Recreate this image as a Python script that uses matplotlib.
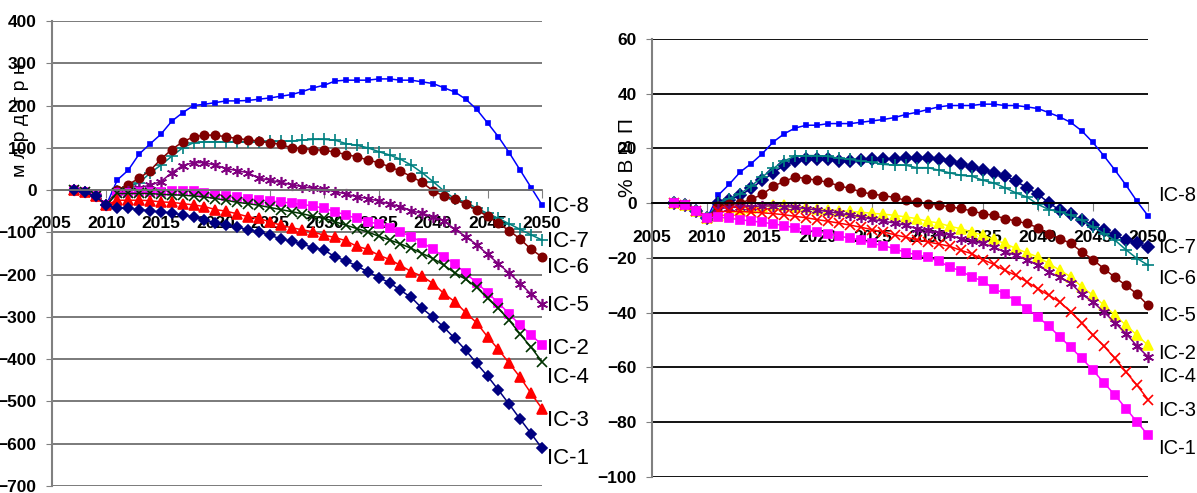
import numpy as np
import matplotlib
matplotlib.use('Agg')
import matplotlib.pyplot as plt

plt.rcParams['font.family'] = ['Liberation Sans Narrow', 'Liberation Sans', 'DejaVu Sans']

years = list(range(2007, 2051))

# left panel, bn UAH (first 4 points shared 2007-2010)
start_l = [0, -5, -15, -35]
l_ic8 = [24, 47, 85, 109, 132, 163, 183, 200, 203, 207,
         211, 211, 212, 215, 218, 222, 226, 233, 242, 248,
         258, 260, 260, 260, 263, 263, 260, 260, 256, 252,
         242, 232, 215, 191, 159, 126, 88, 47, 6, -35]
l_ic7 = [-2, 8, 17, 40, 59, 80, 100, 112, 114, 114,
         114, 114, 114, 114, 115, 115, 116, 118, 120, 120,
         118, 110, 106, 100, 91, 83, 73, 59, 41, 20,
         -2, -21, -28, -43, -55, -67, -80, -93, -106, -118]
l_ic6 = [0, 13, 28, 46, 73, 96, 114, 126, 130, 130,
         126, 122, 119, 116, 112, 108, 100, 98, 96, 94,
         90, 84, 79, 71, 65, 55, 45, 32, 18, -2,
         -14, -22, -33, -47, -62, -79, -96, -116, -140, -158]
l_ic5 = [-5, -3, 5, 12, 20, 41, 58, 65, 65, 59,
         51, 46, 41, 28, 24, 18, 13, 8, 4, 2,
         -4, -9, -16, -20, -26, -33, -39, -49, -55, -63,
         -73, -93, -110, -129, -152, -174, -197, -221, -246, -270]
l_ic2 = [-6, -6, -5, -5, -4, -2, -2, -3, -6, -10,
         -14, -17, -21, -23, -26, -28, -31, -34, -38, -43,
         -51, -59, -67, -75, -80, -89, -99, -110, -124, -140,
         -158, -175, -197, -219, -243, -267, -293, -320, -342, -367]
l_ic4 = [-8, -8, -8, -8, -10, -11, -12, -14, -16, -20,
         -24, -29, -32, -36, -41, -46, -51, -56, -62, -67,
         -75, -83, -91, -99, -109, -118, -127, -138, -150, -162,
         -178, -196, -211, -230, -256, -280, -308, -341, -372, -406]
l_ic3 = [-24, -24, -24, -25, -28, -29, -32, -35, -39, -46,
         -50, -56, -63, -67, -75, -83, -89, -94, -99, -107,
         -112, -120, -133, -140, -154, -164, -178, -193, -204, -221,
         -245, -264, -290, -314, -347, -377, -410, -443, -481, -517]
l_ic1 = [-43, -43, -46, -49, -52, -54, -59, -63, -71, -77,
         -83, -87, -94, -99, -107, -115, -121, -128, -136, -142,
         -158, -167, -180, -193, -207, -219, -237, -254, -280, -301,
         -325, -351, -379, -410, -440, -473, -507, -542, -576, -611]

# right panel, % of GDP
start_r = [0, -0.5, -2.8, -5.5]
r_ic8 = [2.9, 6.9, 11.4, 14.5, 18.1, 22.4, 25.4, 27.5, 28.5, 28.5,
         29.1, 29.1, 29.1, 29.6, 30.1, 30.6, 31.3, 32.4, 33.2, 34.2,
         35.2, 35.7, 35.7, 35.7, 36.2, 36.2, 35.7, 35.7, 35.2, 34.6,
         33.1, 31.5, 29.5, 26.4, 22.2, 17.3, 12.1, 6.6, 0.7, -4.6]
r_ic7 = [0, 1.1, 2.9, 5.4, 8.4, 11.1, 13.9, 15.3, 16, 16,
         16, 15.3, 15.3, 15.7, 16, 16.3, 16.3, 16.6, 16.6, 16.6,
         16.3, 15.5, 14.5, 13.3, 12.3, 11.2, 10, 8.1, 5.7, 3.3,
         0.2, -2.6, -4.1, -6.2, -8, -9.9, -11.7, -13.3, -14.7, -16]
r_ic6 = [0, 1.7, 3.5, 6.3, 9.6, 12.7, 15.5, 17.2, 17.4, 17.4,
         17.1, 16.4, 16, 15.5, 14.9, 14.2, 13.9, 13.9, 13, 13,
         12.1, 11.1, 10.2, 9.9, 8.4, 7.4, 5.7, 3.8, 2.3, -0.4,
         -2.3, -3.2, -4.4, -6.2, -8.7, -11.1, -13.5, -17, -20.2, -22.6]
r_ic5 = [-1, -0.4, 0, 1.5, 3.2, 6.2, 8, 9.6, 9, 8.4,
         7.6, 6.3, 5.4, 4.1, 3.3, 2.8, 2.1, 1.1, 0.5, -0.1,
         -0.7, -1.3, -1.9, -2.8, -3.8, -4.4, -5.6, -6.5, -7.4, -8.9,
         -11.1, -12.9, -14.7, -17.8, -20.6, -23.9, -27.1, -30, -33.2, -37.3]
r_ic2 = [-4.7, -3.8, -2.5, -1.9, -1.3, -0.7, -0.8, -1.2, -1.5, -2,
         -2.4, -2.7, -3, -3.3, -3.7, -4, -4.4, -5, -5.6, -6.6,
         -7.2, -8.4, -9.3, -10.5, -11.7, -13.2, -14.7, -16.5, -18.1, -19.6,
         -22, -24.5, -26.9, -30.6, -33.6, -37.3, -40.9, -44.6, -48.2, -51.9]
r_ic4 = [-2, -1.6, -1.4, -1.2, -1, -1, -1.2, -1.5, -2, -2.5,
         -3.1, -3.7, -4.3, -5, -5.9, -6.6, -7.2, -8, -9.3, -9.9,
         -10.8, -11.7, -12.9, -13.8, -14.7, -16, -17.8, -19, -20.6, -22.6,
         -25.1, -27.1, -29.3, -33.2, -36.1, -39.7, -43.7, -47.6, -52.2, -56.1]
r_ic3 = [-3, -3, -3, -3.2, -3.5, -3.8, -4.2, -4.8, -5.3, -6,
         -6.6, -7.3, -8, -8.8, -9.7, -10.5, -11.5, -12.4, -13.3, -14.1,
         -14.9, -15.7, -17.2, -18.4, -20.6, -22.3, -24.5, -26.3, -28.7, -31.2,
         -33.6, -36.1, -39.7, -43.9, -48.2, -52.2, -56.7, -61.6, -66.5, -71.7]
r_ic1 = [-5, -5.5, -6, -6.5, -7, -7.5, -8.2, -9, -9.6, -10.5,
         -11.1, -12.1, -12.7, -13.5, -14.7, -15.5, -16.6, -18, -18.8, -19.8,
         -21.1, -23.3, -24.7, -26.9, -28.4, -31.2, -33, -35.7, -38.5, -41.5,
         -44.9, -48.8, -52.7, -56.7, -61, -65.6, -70.1, -75, -79.9, -84.7]

labels = ['IC-8', 'IC-7', 'IC-6', 'IC-5', 'IC-2', 'IC-4', 'IC-3', 'IC-1']
lab_y_l = [-38, -122, -182, -272, -374, -444, -544, -636]
lab_y_r = [2.9, -16, -27.4, -40.9, -54.8, -63.4, -75.6, -89.5]

star = (6, 2, 0)
left_series = [
    (l_ic8, '#0000FF', 's', 3),
    (l_ic7, '#008080', '+', 9),
    (l_ic6, '#800000', 'o', 6),
    (l_ic5, '#800080', star, 8),
    (l_ic2, '#FF00FF', 's', 6),
    (l_ic4, '#003300', 'x', 7),
    (l_ic3, '#FF0000', '^', 7),
    (l_ic1, '#000080', 'D', 5),
]
right_series = [
    (r_ic8, '#0000FF', 's', 3),
    (r_ic7, '#000080', 'D', 6),
    (r_ic6, '#008080', '+', 9),
    (r_ic5, '#800000', 'o', 6),
    (r_ic2, '#FFFF00', '^', 7),
    (r_ic4, '#800080', star, 8),
    (r_ic3, '#FF0000', 'x', 7),
    (r_ic1, '#FF00FF', 's', 6),
]

fig = plt.figure(figsize=(11.97, 4.93), dpi=100)
axl = fig.add_axes([0.0434, 0.0142, 0.4094, 0.9432])
axr = fig.add_axes([0.5447, 0.0325, 0.4144, 0.8884])


def style(ax, ylim, step, gridc):
    ax.set_xlim(2005, 2050)
    ax.set_ylim(*ylim)
    ax.set_yticks(np.arange(ylim[0], ylim[1] + step, step))
    ax.set_xticks(range(2005, 2051, 5))
    ax.yaxis.grid(True, color=gridc, lw=1.3)
    ax.set_axisbelow(True)
    for s in ['top', 'right']:
        ax.spines[s].set_visible(False)
    ax.spines['left'].set_color('#808080')
    ax.spines['left'].set_linewidth(1.5)
    ax.spines['bottom'].set_position(('data', 0))
    ax.spines['bottom'].set_color(gridc)
    ax.spines['bottom'].set_linewidth(1.3)
    ax.tick_params(axis='y', length=4, color='#808080', labelsize=12.5, pad=7)
    ax.tick_params(axis='x', length=6, color='#808080', labelsize=12.5, pad=13)
    for t in ax.get_xticklabels() + ax.get_yticklabels():
        t.set_fontweight('bold')


for ax, start, series, lab_y, lab_x, fs in [(axl, start_l, left_series, lab_y_l, 2050.5, 16),
                                            (axr, start_r, right_series, lab_y_r, 2050.9, 14.5)]:
    for vals, c, m, ms in series:
        ax.plot(years, start + vals, color=c, marker=m, ms=ms, lw=1.1,
                mew=1.2, clip_on=False)
    for lab, y in zip(labels, lab_y):
        ax.text(lab_x, y, lab, fontsize=fs, va='center', ha='left', clip_on=False)

style(axl, (-700, 400), 100, '#707070')
style(axr, (-100, 60), 20, '#000000')

fig.text(0.017, 0.757, 'м л р д  г р н', rotation=90, fontsize=14,
         ha='center', va='center')
fig.text(0.524, 0.68, '% В В П', rotation=90, fontsize=15,
         ha='center', va='center')

fig.savefig('out.png', dpi=100)
